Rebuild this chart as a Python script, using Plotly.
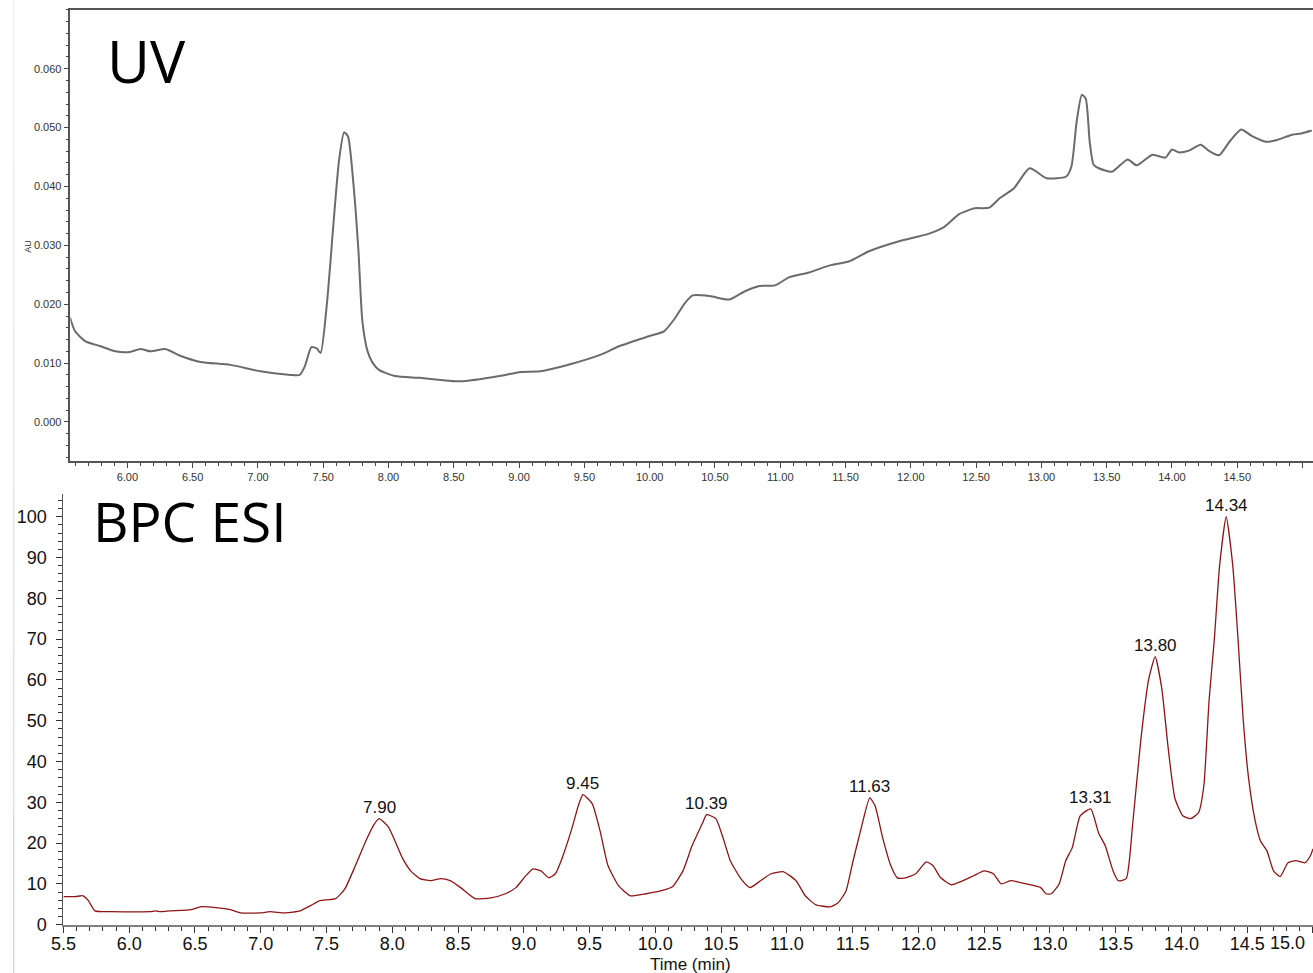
import plotly.graph_objects as go

# ---------------- data ----------------
uv_time = [5.56, 5.60, 5.68, 5.79, 5.91, 6.02, 6.10, 6.18, 6.29, 6.41, 6.56, 6.79, 7.02, 7.25, 7.32,
           7.36, 7.41, 7.45, 7.48, 7.53, 7.58, 7.62, 7.66, 7.69, 7.73, 7.77, 7.80, 7.84, 7.88, 7.93,
           8.05, 8.24, 8.55, 8.85, 9.01, 9.16, 9.39, 9.62, 9.77, 10.00, 10.11, 10.19, 10.27, 10.33,
           10.46, 10.61, 10.73, 10.84, 10.96, 11.07, 11.22, 11.38, 11.53, 11.68, 11.91, 12.14, 12.26,
           12.37, 12.49, 12.60, 12.68, 12.79, 12.91, 13.04, 13.19, 13.23, 13.27, 13.31, 13.34, 13.37,
           13.40, 13.44, 13.54, 13.66, 13.73, 13.85, 13.95, 14.00, 14.05, 14.13, 14.22, 14.28, 14.36,
           14.44, 14.53, 14.61, 14.72, 14.79, 14.92, 14.99, 15.07]
uv_au = [0.0178, 0.0154, 0.0137, 0.0129, 0.0120, 0.0119, 0.0124, 0.0120, 0.0124, 0.0112, 0.0102,
         0.0097, 0.0086, 0.0080, 0.0080, 0.0095, 0.0127, 0.0125, 0.0117, 0.0205, 0.0341, 0.0442,
         0.0492, 0.0485, 0.0408, 0.0290, 0.0171, 0.0120, 0.0100, 0.0088, 0.0078, 0.0075, 0.0069,
         0.0078, 0.0085, 0.0086, 0.0098, 0.0114, 0.0129, 0.0146, 0.0154, 0.0175, 0.0202, 0.0215,
         0.0214, 0.0208, 0.0222, 0.0231, 0.0232, 0.0246, 0.0254, 0.0266, 0.0273, 0.0290, 0.0307,
         0.0320, 0.0332, 0.0353, 0.0363, 0.0364, 0.0380, 0.0397, 0.0431, 0.0414, 0.0417, 0.0434,
         0.0510, 0.0556, 0.0549, 0.0476, 0.0437, 0.0431, 0.0425, 0.0446, 0.0436, 0.0454, 0.0449,
         0.0463, 0.0458, 0.0461, 0.0471, 0.0461, 0.0453, 0.0476, 0.0497, 0.0486, 0.0476, 0.0478,
         0.0488, 0.0490, 0.0495]

bpc_time = [5.50, 5.59, 5.65, 5.69, 5.74, 5.86, 6.16, 6.20, 6.24, 6.31, 6.47, 6.54, 6.66, 6.77,
            6.85, 7.00, 7.07, 7.19, 7.30, 7.38, 7.45, 7.57, 7.64, 7.72, 7.80, 7.86, 7.90, 7.97,
            8.02, 8.08, 8.14, 8.21, 8.29, 8.37, 8.44, 8.52, 8.63, 8.75, 8.86, 8.94, 9.01, 9.07,
            9.13, 9.19, 9.24, 9.29, 9.36, 9.42, 9.45, 9.52, 9.58, 9.64, 9.72, 9.81, 9.93, 10.04,
            10.13, 10.21, 10.28, 10.36, 10.39, 10.46, 10.51, 10.57, 10.65, 10.72, 10.80, 10.88,
            10.97, 11.07, 11.14, 11.22, 11.33, 11.39, 11.45, 11.50, 11.56, 11.63, 11.67, 11.73,
            11.79, 11.84, 11.90, 11.98, 12.06, 12.11, 12.17, 12.25, 12.34, 12.42, 12.50, 12.57,
            12.63, 12.70, 12.82, 12.93, 12.97, 13.01, 13.07, 13.12, 13.17, 13.23, 13.31, 13.37,
            13.42, 13.48, 13.52, 13.58, 13.63, 13.69, 13.75, 13.80, 13.85, 13.90, 13.95, 14.01,
            14.07, 14.13, 14.17, 14.21, 14.25, 14.29, 14.34, 14.39, 14.43, 14.47, 14.51, 14.56,
            14.60, 14.65, 14.70, 14.75, 14.81, 14.87, 14.94, 14.98, 15.00]
bpc_rel = [6.9, 6.9, 7.1, 5.9, 3.4, 3.2, 3.2, 3.4, 3.2, 3.4, 3.7, 4.4, 4.2, 3.7,
           2.9, 2.9, 3.2, 2.9, 3.4, 4.7, 5.9, 6.4, 8.8, 14.5, 20.6, 24.5, 26.0, 24.0,
           20.6, 16.2, 13.2, 11.3, 10.8, 11.3, 10.8, 9.1, 6.4, 6.6, 7.6, 9.1, 11.8, 13.7,
           13.2, 11.5, 12.5, 16.2, 23.0, 29.7, 31.9, 29.7, 23.0, 14.5, 9.6, 7.1, 7.6, 8.3,
           9.3, 13.2, 19.4, 25.0, 27.0, 26.0, 21.8, 15.7, 11.3, 9.1, 10.8, 12.5,
           13.0, 10.8, 7.1, 4.9, 4.4, 5.4, 8.3, 15.2, 23.0, 31.1, 29.2, 21.1,
           14.5, 11.5, 11.5, 12.5, 15.4, 14.5, 11.5, 9.8, 10.8, 12.0, 13.2, 12.5,
           10.0, 10.8, 10.0, 9.1, 7.6, 7.6, 10.0, 15.7, 18.9, 26.7, 28.4, 22.5,
           19.4, 13.2, 10.8, 11.3, 25.0, 45.0, 60.0, 65.7, 58.0, 43.0, 31.0, 26.7,
           26.0, 27.5, 34.0, 55.0, 70.0, 88.0, 100.0, 88.0, 70.0, 50.0, 36.0, 25.5,
           20.6, 18.1, 13.2, 11.8, 15.2, 15.7, 15.2, 16.9, 18.6]

peak_time = [7.90, 9.45, 10.39, 11.63, 13.31, 13.80, 14.34]
peak_rel = [26.0, 31.9, 27.0, 31.1, 28.4, 65.7, 100.0]
peak_labels = ["7.90", "9.45", "10.39", "11.63", "13.31", "13.80", "14.34"]

uv_yticks = [0.000, 0.010, 0.020, 0.030, 0.040, 0.050, 0.060]
bpc_xticks = [5.5, 6.0, 6.5, 7.0, 7.5, 8.0, 8.5, 9.0, 9.5, 10.0, 10.5, 11.0, 11.5, 12.0,
              12.5, 13.0, 13.5, 14.0, 14.5, 15.0]
bpc_xlabels = ["5.5", "6.0", "6.5", "7.0", "7.5", "8.0", "8.5", "9.0", "9.5", "10.0", "10.5",
               "11.0", "11.5", "12.0", "12.5", "13.0", "13.5", "14.0", "14.5", ""]
bpc_yticks = [0, 10, 20, 30, 40, 50, 60, 70, 80, 90, 100]

# ---------------- figure ----------------
W, H = 1313, 985
# observed page -> picture mapping of the viewer (picture = OX + S * page)
S, OX, OY = 0.99, 12.6, -0.9


def fx(p):
    """target picture pixel x -> paper fraction"""
    return min(1.0, max(0.0, (p - OX) / S / W))


def fy(p):
    """target picture pixel y -> paper fraction"""
    return min(1.0, max(0.0, 1 - (p - OY) / S / H))


fig = go.Figure()
fig.add_trace(go.Scatter(x=uv_time, y=uv_au, xaxis="x", yaxis="y", mode="lines",
                         line=dict(color="#6b6b6b", width=2, shape="spline", smoothing=0.6),
                         showlegend=False, hoverinfo="skip"))
fig.add_trace(go.Scatter(x=bpc_time, y=bpc_rel, xaxis="x2", yaxis="y2", mode="lines",
                         line=dict(color="#8e1414", width=1.3, shape="spline", smoothing=0.5),
                         showlegend=False, hoverinfo="skip"))

small_font = dict(family="Arial, Liberation Sans, sans-serif", size=11, color="#333")
big_font = dict(family="Arial, Liberation Sans, sans-serif", size=18, color="#111")

annotations = [
    dict(text="UV", x=fx(105), y=fy(59), xref="paper", yref="paper", xanchor="left",
         yanchor="middle", showarrow=False,
         font=dict(family="Open Sans, sans-serif", size=59, color="#000")),
    dict(text="BPC ESI", x=fx(91), y=fy(520), xref="paper", yref="paper", xanchor="left",
         yanchor="middle", showarrow=False,
         font=dict(family="Open Sans, sans-serif", size=55, color="#000")),
    dict(text="15.0", x=15.0, y=0, xref="x2", yref="y2", xanchor="right", yanchor="top",
         yshift=-6, xshift=-6, showarrow=False, font=big_font),
    dict(text="AU", x=fx(21), y=fy(237), xref="paper", yref="paper", textangle=-90,
         showarrow=False, font=dict(family="Arial, Liberation Sans, sans-serif", size=9, color="#333")),
    dict(text="Time (min)", x=fx(690), y=fy(964), xref="paper", yref="paper",
         xanchor="center", yanchor="middle", showarrow=False,
         font=dict(family="Arial, Liberation Sans, sans-serif", size=17, color="#111")),
]
for t, v, lab in zip(peak_time, peak_rel, peak_labels):
    annotations.append(dict(text=lab, x=t, y=v, xref="x2", yref="y2", xanchor="center",
                            yanchor="bottom", yshift=0, showarrow=False,
                            font=dict(family="Arial, Liberation Sans, sans-serif", size=17,
                                      color="#111")))

# light blue strip along the left edge
shapes = []
strip_cols = ["#eef2f6", "#e8eef3", "#e2eaf0", "#dce6ee", "#d6e1eb", "#d0dde8"]
n = len(strip_cols)
for i, c in enumerate(strip_cols):
    shapes.append(dict(type="rect", xref="paper", yref="paper", x0=0, x1=fx(14),
                       y0=1 - (i + 1) / n, y1=1 - i / n, fillcolor=c, line=dict(width=0),
                       layer="below"))

fig.update_layout(
    width=W, height=H,
    margin=dict(l=0, r=0, t=0, b=0),
    paper_bgcolor="white", plot_bgcolor="white",
    showlegend=False,
    xaxis=dict(domain=[fx(70), 1], range=[5.564, 15.08], anchor="y",
               showline=True, linecolor="#555", linewidth=1.5, mirror=True,
               ticks="outside", tick0=0, dtick=0.5, tickformat=".2f", ticklen=5,
               tickcolor="#444", tickfont=small_font,
               minor=dict(dtick=0.1, tick0=0, ticklen=3, ticks="outside", tickcolor="#444"),
               showgrid=False, zeroline=False),
    yaxis=dict(domain=[fy(460), fy(9)], range=[-0.0066, 0.0700], anchor="x",
               showline=True, linecolor="#555", linewidth=1.5,
               ticks="outside", tickvals=uv_yticks, tickformat=".3f", ticklen=5,
               tickcolor="#444", tickfont=small_font,
               minor=dict(dtick=0.002, tick0=0, ticklen=3, ticks="outside", tickcolor="#444"),
               showgrid=False, zeroline=False),
    xaxis2=dict(domain=[fx(63), 1], range=[5.5, 15.0], anchor="y2",
                showline=True, linecolor="#808080", linewidth=2,
                ticks="outside", tickvals=bpc_xticks, ticktext=bpc_xlabels, ticklen=6,
                tickcolor="#333", tickfont=big_font, ticklabelstandoff=-4,
                minor=dict(dtick=0.1, tick0=0, ticklen=4, ticks="outside", tickcolor="#333"),
                showgrid=False, zeroline=False),
    yaxis2=dict(domain=[fy(924), fy(493)], range=[0, 105.6], anchor="x2",
                showline=True, linecolor="#555", linewidth=1,
                ticks="outside", tickvals=bpc_yticks, ticklen=6, tickcolor="#333",
                tickfont=big_font, ticklabelstandoff=6,
                minor=dict(dtick=2, tick0=0, ticklen=4, ticks="outside", tickcolor="#333"),
                showgrid=False, zeroline=False),
    annotations=annotations,
    shapes=shapes,
)

fig.write_html(
    "out.html",
    config={"displayModeBar": False},
    post_script="document.body.style.margin='0px';document.body.style.overflow='hidden';",
)
